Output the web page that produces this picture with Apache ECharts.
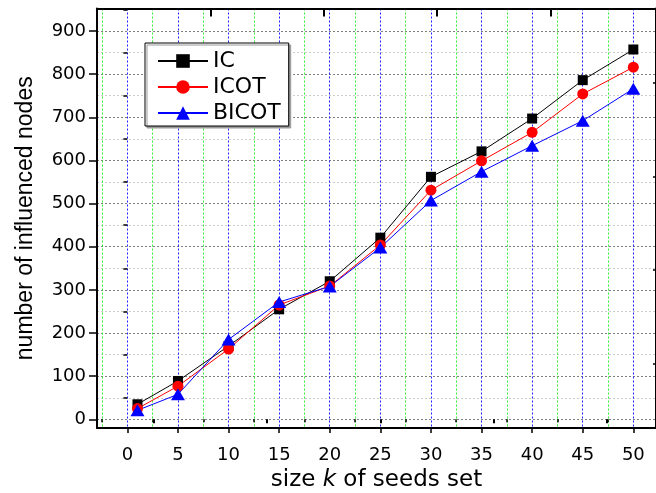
<!DOCTYPE html>
<html>
<head>
<meta charset="utf-8">
<script src="https://cdn.jsdelivr.net/npm/echarts@6/dist/echarts.min.js"></script>
<style>
  html, body { margin: 0; padding: 0; background: #fff; }
  #chart { width: 656px; height: 493px; }
</style>
</head>
<body>
<div id="chart"></div>
<script>
// seed set sizes and influenced node counts
const seedSizes = [1, 5, 10, 15, 20, 25, 30, 35, 40, 45, 50]
const icValues = [35, 89, 170, 255, 320, 421, 562, 621, 697, 786, 857]
const icotValues = [25, 77, 163, 265, 309, 404, 531, 599, 665, 754, 816]
const bicotValues = [21, 58, 185, 272, 308, 398, 507, 574, 634, 692, 766]

// tick positions
const xTicks = [0, 5, 10, 15, 20, 25, 30, 35, 40, 45, 50]
const xMinorTicks = [-2.5, 2.5, 7.5, 12.5, 17.5, 22.5, 27.5, 32.5, 37.5, 42.5, 47.5]
const yTicks = [0, 100, 200, 300, 400, 500, 600, 700, 800, 900]
const yMinorTicks = [50, 150, 250, 350, 450, 550, 650, 750, 850, 950]
// stray ticks of the cropped top / right axes
const topLongTicks = [1, 3, 5, 7]
const topShortTicks = [0, 2, 4, 6, 8]
const rightTicks = [130, 346, 562, 779]

const pairs = (vals) => seedSizes.map((x, i) => [x, vals[i]])

const labelFont = 'DejaVu Sans'
const hidden = { show: false }

const option = {
  animation: false,
  backgroundColor: '#fff',
  grid: { left: 97, top: 8.5, right: 0, bottom: 65, outerBoundsMode: 'none' },
  legend: {
    left: 145,
    top: 43,
    orient: 'vertical',
    padding: [7, 8, 2, 12],
    itemWidth: 50,
    itemHeight: 17,
    itemGap: 4,
    backgroundColor: '#fff',
    borderColor: '#000',
    borderWidth: 1,
    shadowColor: '#999',
    shadowOffsetX: 2,
    shadowOffsetY: 2,
    textStyle: { fontFamily: labelFont, fontSize: 22, color: '#000' },
    data: ['IC', 'ICOT', 'BICOT']
  },
  xAxis: [
    {
      type: 'value', position: 'bottom', min: -3, max: 52.24,
      axisLine: { onZero: false, lineStyle: { color: '#000', width: 2 } },
      axisTick: { customValues: xTicks, length: 5, lineStyle: { color: '#000', width: 1.5 } },
      axisLabel: { customValues: xTicks, margin: 18, color: '#000', fontFamily: labelFont, fontSize: 18 },
      splitLine: { show: true, lineStyle: { color: '#2020ff', type: [2, 2], width: 1 } },
      name: 'size {i|k} of seeds set',
      nameLocation: 'middle',
      nameGap: 41,
      nameTextStyle: {
        color: '#000', fontFamily: labelFont, fontSize: 23,
        rich: { i: { fontStyle: 'italic', fontFamily: labelFont, fontSize: 23, color: '#000' } }
      }
    },
    {
      type: 'value', position: 'bottom', min: -3, max: 52.24,
      axisLine: hidden, axisLabel: hidden,
      axisTick: { customValues: xMinorTicks, length: 3, lineStyle: { color: '#000', width: 1.5 } },
      splitLine: { show: true, lineStyle: { color: '#33ee33', type: [2, 2], width: 1 } }
    },
    {
      type: 'value', position: 'top', min: -1, max: 8.86,
      axisLine: { onZero: false, lineStyle: { color: '#000', width: 2 } },
      axisTick: { inside: true, customValues: topLongTicks, length: 8, lineStyle: { color: '#000', width: 2 } },
      axisLabel: hidden, splitLine: hidden
    },
    {
      type: 'value', position: 'top', min: -1, max: 8.86,
      axisLine: hidden, axisLabel: hidden, splitLine: hidden,
      axisTick: { inside: true, customValues: topShortTicks, length: 4, lineStyle: { color: '#000', width: 2 } }
    }
  ],
  yAxis: [
    {
      type: 'value', position: 'left', min: -20, max: 952,
      axisLine: { show: true, onZero: false, lineStyle: { color: '#000', width: 2 } },
      axisTick: { show: true, customValues: yTicks, length: 8, lineStyle: { color: '#000', width: 1.5 } },
      axisLabel: { customValues: yTicks, margin: 11, color: '#000', fontFamily: labelFont, fontSize: 18 },
      splitLine: { show: true, lineStyle: { color: '#808080', type: [2, 2], width: 1 } },
      name: 'number of influenced nodes',
      nameLocation: 'middle',
      nameGap: 60,
      nameTextStyle: { color: '#000', fontFamily: 'Liberation Sans', fontSize: 23 }
    },
    {
      type: 'value', position: 'left', min: -20, max: 952,
      axisLine: hidden, axisLabel: hidden,
      axisTick: { show: true, customValues: yMinorTicks, length: 4, lineStyle: { color: '#000', width: 1.5 } },
      splitLine: { show: true, lineStyle: { color: '#cccccc', type: [2, 2], width: 1 } }
    },
    {
      type: 'value', position: 'right', min: -20, max: 952,
      axisLine: { show: true, onZero: false, lineStyle: { color: '#000', width: 2 } },
      axisTick: { show: true, inside: true, customValues: rightTicks, length: 3, lineStyle: { color: '#000', width: 1.5 } },
      axisLabel: hidden, splitLine: hidden
    }
  ],
  series: [
    {
      name: 'IC', type: 'line', xAxisIndex: 0, yAxisIndex: 0,
      symbol: 'rect', symbolSize: 10,
      lineStyle: { color: '#000', width: 1 },
      itemStyle: { color: '#000' },
      data: pairs(icValues)
    },
    {
      name: 'ICOT', type: 'line', xAxisIndex: 0, yAxisIndex: 0,
      symbol: 'circle', symbolSize: 11,
      lineStyle: { color: '#ff0000', width: 1 },
      itemStyle: { color: '#ff0000' },
      data: pairs(icotValues)
    },
    {
      name: 'BICOT', type: 'line', xAxisIndex: 0, yAxisIndex: 0,
      symbol: 'triangle', symbolSize: [14, 12],
      lineStyle: { color: '#0000ff', width: 1 },
      itemStyle: { color: '#0000ff' },
      data: pairs(bicotValues)
    }
  ]
}

const myChart = echarts.init(document.getElementById('chart'))
option && myChart.setOption(option)
</script>
</body>
</html>
